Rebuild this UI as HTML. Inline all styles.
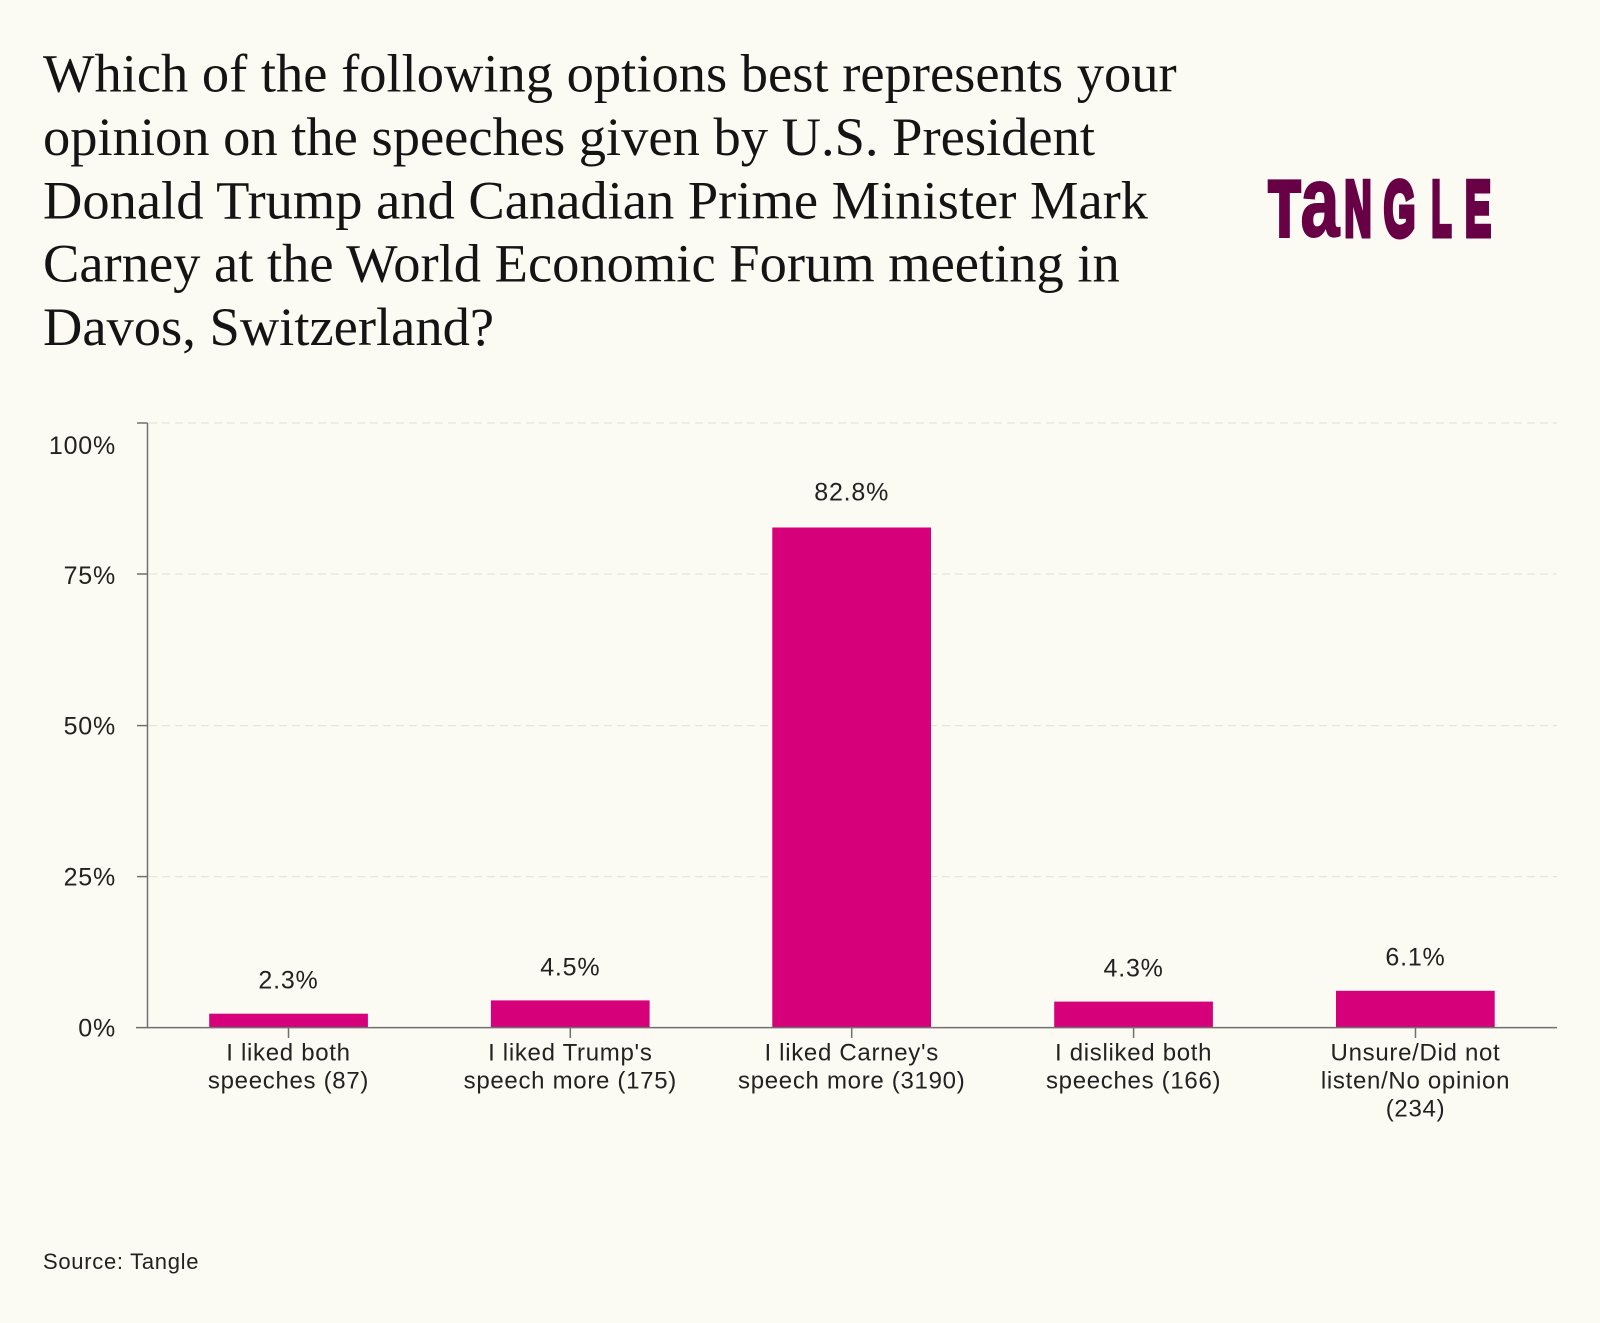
<!DOCTYPE html>
<html>
<head>
<meta charset="utf-8">
<style>
  html,body{margin:0;padding:0;background:#fbfaf3;}
  svg{display:block;}
  .t{font-family:"Liberation Serif",serif;font-size:54.5px;fill:#141414;}
  .s{font-family:"Liberation Sans",sans-serif;fill:#222;}
  .logo{font-family:"Liberation Sans",sans-serif;font-weight:bold;fill:#680046;stroke:#680046;}
</style>
</head>
<body>
<svg width="1600" height="1323" viewBox="0 0 1600 1323" xmlns="http://www.w3.org/2000/svg">
  <rect x="0" y="0" width="1600" height="1323" fill="#fbfaf3"/>

  <!-- Title -->
  <text class="t" x="43" y="91.7">Which of the following options best represents your</text>
  <text class="t" x="43" y="155">opinion on the speeches given by U.S. President</text>
  <text class="t" x="43" y="218.3">Donald Trump and Canadian Prime Minister Mark</text>
  <text class="t" x="43" y="281.6">Carney at the World Economic Forum meeting in</text>
  <text class="t" x="43" y="345">Davos, Switzerland?</text>

  <!-- Logo -->
  <g>
    <text class="logo" font-size="78" stroke-width="5" text-anchor="middle" transform="translate(1284.5,235.5) scale(0.66,1)">T</text>
    <text class="logo" font-size="100" stroke-width="2" text-anchor="middle" transform="translate(1320,236) scale(0.7,1)">a</text>
    <text class="logo" font-size="78" stroke-width="6" text-anchor="middle" transform="translate(1358,235.5) scale(0.48,1)">N</text>
    <text class="logo" font-size="78" stroke-width="6" text-anchor="middle" transform="translate(1399.5,235.5) scale(0.52,1)">G</text>
    <text class="logo" font-size="78" stroke-width="6" text-anchor="middle" transform="translate(1441.5,235.5) scale(0.42,1)">L</text>
    <text class="logo" font-size="78" stroke-width="6" text-anchor="middle" transform="translate(1478,235.5) scale(0.5,1)">E</text>
  </g>

  <!-- Gridlines -->
  <g stroke="#e6e5da" stroke-width="1.2" stroke-dasharray="8 5">
    <line x1="149" y1="423" x2="1557" y2="423"/>
    <line x1="149" y1="574" x2="1557" y2="574"/>
    <line x1="149" y1="725.6" x2="1557" y2="725.6"/>
    <line x1="149" y1="876.6" x2="1557" y2="876.6"/>
  </g>

  <!-- Bars -->
  <g fill="#d6007a">
    <rect x="209.2" y="1013.7" width="158.7" height="13.9"/>
    <rect x="490.9" y="1000.4" width="158.7" height="27.2"/>
    <rect x="772.3" y="527.5" width="158.7" height="500.1"/>
    <rect x="1054.2" y="1001.6" width="158.7" height="26.0"/>
    <rect x="1336" y="990.8" width="158.7" height="36.8"/>
  </g>

  <!-- Axes -->
  <g stroke="#707070" stroke-width="1.5" fill="none">
    <line x1="147.5" y1="423" x2="147.5" y2="1028"/>
    <line x1="136" y1="1027.6" x2="1557" y2="1027.6"/>
    <line x1="137" y1="423" x2="147.5" y2="423"/>
    <line x1="137" y1="574" x2="147.5" y2="574"/>
    <line x1="137" y1="725.6" x2="147.5" y2="725.6"/>
    <line x1="137" y1="876.6" x2="147.5" y2="876.6"/>
    <line x1="288.5" y1="1027.6" x2="288.5" y2="1038"/>
    <line x1="570.3" y1="1027.6" x2="570.3" y2="1038"/>
    <line x1="851.7" y1="1027.6" x2="851.7" y2="1038"/>
    <line x1="1133.6" y1="1027.6" x2="1133.6" y2="1038"/>
    <line x1="1415.5" y1="1027.6" x2="1415.5" y2="1038"/>
  </g>

  <!-- Y tick labels -->
  <g class="s" font-size="25" text-anchor="end" letter-spacing="0.8">
    <text x="116" y="454">100%</text>
    <text x="116" y="584">75%</text>
    <text x="116" y="734.6">50%</text>
    <text x="116" y="885.6">25%</text>
    <text x="116" y="1036.6">0%</text>
  </g>

  <!-- Value labels -->
  <g class="s" font-size="25" text-anchor="middle" letter-spacing="0.8">
    <text x="288.5" y="988.6">2.3%</text>
    <text x="570.3" y="975.4">4.5%</text>
    <text x="851.7" y="500.7">82.8%</text>
    <text x="1133.6" y="976.6">4.3%</text>
    <text x="1415.5" y="965.7">6.1%</text>
  </g>

  <!-- X labels -->
  <g class="s" font-size="24" text-anchor="middle" letter-spacing="0.7">
    <text x="288.5" y="1060.7">I liked both</text>
    <text x="288.5" y="1088.7">speeches (87)</text>
    <text x="570.3" y="1060.7">I liked Trump's</text>
    <text x="570.3" y="1088.7">speech more (175)</text>
    <text x="851.7" y="1060.7">I liked Carney's</text>
    <text x="851.7" y="1088.7">speech more (3190)</text>
    <text x="1133.6" y="1060.7">I disliked both</text>
    <text x="1133.6" y="1088.7">speeches (166)</text>
    <text x="1415.5" y="1060.7">Unsure/Did not</text>
    <text x="1415.5" y="1088.7">listen/No opinion</text>
    <text x="1415.5" y="1116.7">(234)</text>
  </g>

  <!-- Source -->
  <text class="s" x="43" y="1269" font-size="22" letter-spacing="0.7">Source: Tangle</text>
</svg>
</body>
</html>
